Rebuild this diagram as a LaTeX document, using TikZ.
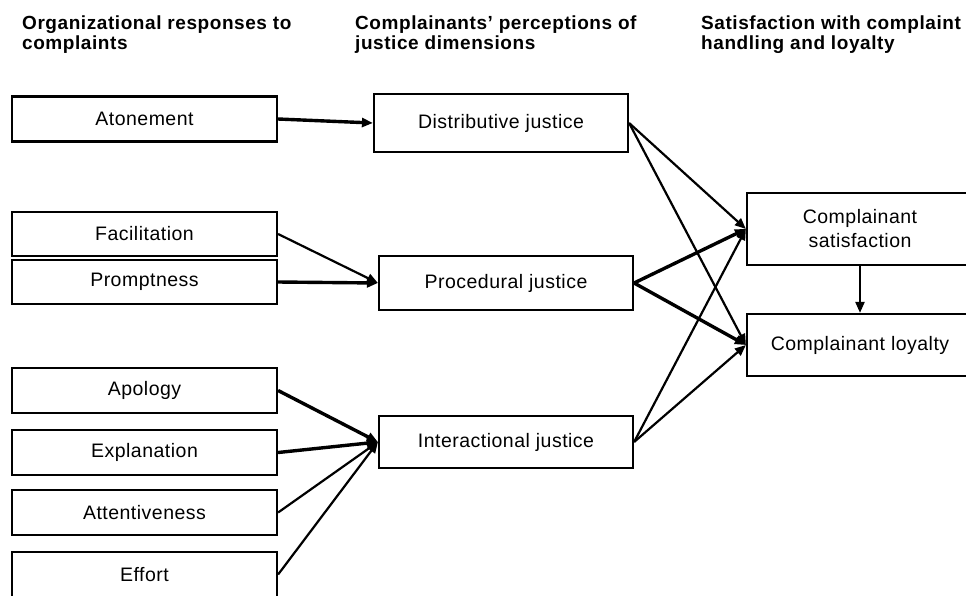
\documentclass[tikz,border=0pt]{standalone}
\usepackage{fontspec}
\setmainfont{Liberation Sans}
\newfontfamily\headfont[LetterSpace=3]{Liberation Sans}
\newfontfamily\boxfont[LetterSpace=2.5]{Liberation Sans}
\usetikzlibrary{arrows.meta}
\definecolor{ink}{HTML}{000000}
\newcommand{\boxsize}{\fontsize{19.5}{24}\selectfont}
\newcommand{\headsize}{\fontsize{19}{20}\selectfont}
\tikzset{
 every node/.append style={text=ink,align=center},
 box/.style={draw=ink,fill=white,line width=2.2pt,font=\boxfont\boxsize,inner sep=2pt},
 response/.style={box,minimum width=265pt,minimum height=45pt},
 justice/.style={box,minimum width=254pt},
 outcome/.style={box,minimum width=226pt},
 head/.style={font=\headfont\bfseries\headsize,align=left,anchor=north west,inner sep=0pt},
 link/.style={-{Triangle[length=11pt,width=9pt]},draw=ink,line width=2.2pt},
 strong/.style={link,line width=3.4pt},
}

\begin{document}
\begin{tikzpicture}[x=1pt,y=-1pt]
\useasboundingbox (0,0) rectangle (966,595);

% column headings
\node[head] (h1) at (22,16) {Organizational responses to\\complaints};
\node[head] (h2) at (355,16) {Complainants’ perceptions of\\justice dimensions};
\node[head] (h3) at (701,16) {Satisfaction with complaint\\handling and loyalty};

% organizational responses
\node[response] (atonement) at (144.5,119) {Atonement};
\node[response,minimum height=44pt] (facilitation) at (144.5,234) {Facilitation};
\node[response,minimum height=44pt] (promptness) at (144.5,282) {Promptness};
\node[response] (apology) at (144.5,390.5) {Apology};
\node[response] (explanation) at (144.5,452.5) {Explanation};
\node[response] (attentiveness) at (144.5,512.5) {Attentiveness};
\node[response] (effort) at (144.5,574.5) {Effort};

% justice dimensions
\node[justice,minimum height=58pt] (distributive) at (501,123) {Distributive justice};
\node[justice,minimum height=54pt] (procedural) at (506,283) {Procedural justice};
\node[justice,minimum height=52pt] (interactional) at (506,442) {Interactional justice};

% satisfaction and loyalty
\node[outcome,minimum height=72pt] (satisfaction) at (860,229) {Complainant\\satisfaction};
\node[outcome,minimum height=62pt] (loyalty) at (860,345) {Complainant loyalty};

\draw[strong] (atonement.east) -- (distributive.west);
\draw[link] (facilitation.east) -- (procedural.west);
\draw[strong] (promptness.east) -- (procedural.west);
\draw[strong] (apology.east) -- (interactional.west);
\draw[strong] (explanation.east) -- (interactional.west);
\draw[link] (attentiveness.east) -- (interactional.west);
\draw[link] (effort.east) -- (interactional.west);

\draw[link] (distributive.east) -- (satisfaction.west);
\draw[link] (distributive.east) -- (loyalty.west);
\draw[strong] (procedural.east) -- (satisfaction.west);
\draw[strong] (procedural.east) -- (loyalty.west);
\draw[link] (interactional.east) -- (satisfaction.west);
\draw[link] (interactional.east) -- (loyalty.west);
\draw[link] (satisfaction.south) -- (loyalty.north);

\end{tikzpicture}
\end{document}
